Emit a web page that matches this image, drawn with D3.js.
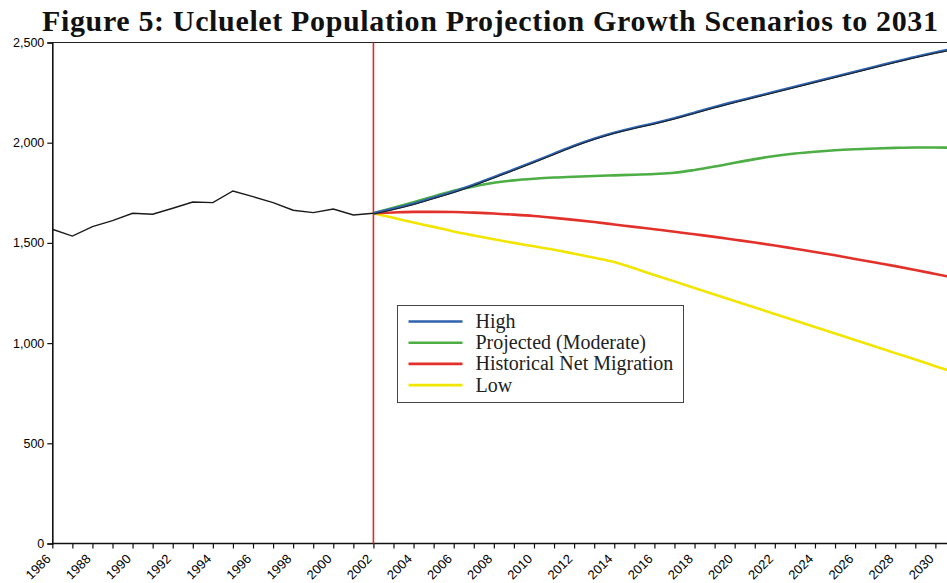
<!DOCTYPE html>
<html>
<head>
<meta charset="utf-8">
<script src="https://cdn.jsdelivr.net/npm/d3@7"></script>
<style>
  body { margin: 0; background: #fff; }
  svg { display: block; }
</style>
</head>
<body>
<div id="chart"></div>
<script>
// Ucluelet population, history + growth scenarios

const histYears = d3.range(1986, 2003);
const histPop = [1568, 1534, 1581, 1611, 1648, 1643, 1673, 1704, 1701, 1759, 1731, 1701, 1663, 1651, 1669, 1639, 1648];

const projYears = d3.range(2002, 2032);
const highPop = [1648, 1670, 1695, 1725, 1755, 1790, 1828, 1866, 1905, 1945, 1985, 2020, 2050, 2075, 2097, 2122, 2150, 2178, 2204, 2229, 2254, 2279, 2304, 2329, 2354, 2379, 2404, 2428, 2450, 2470];
const moderatePop = [1648, 1675, 1703, 1732, 1760, 1782, 1800, 1812, 1820, 1826, 1830, 1834, 1837, 1840, 1844, 1850, 1864, 1881, 1900, 1918, 1934, 1946, 1955, 1962, 1967, 1971, 1974, 1976, 1976, 1975];
const migrationPop = [1648, 1652, 1655, 1655, 1654, 1651, 1647, 1641, 1634, 1625, 1615, 1604, 1592, 1580, 1568, 1556, 1543, 1530, 1516, 1502, 1487, 1471, 1455, 1438, 1420, 1402, 1384, 1365, 1345, 1325];
const lowPop = [1648, 1625, 1602, 1580, 1557, 1537, 1518, 1500, 1483, 1466, 1446, 1426, 1405, 1373, 1340, 1308, 1275, 1243, 1210, 1178, 1145, 1113, 1080, 1048, 1015, 983, 950, 918, 885, 853];

const seriesNames = ["High", "Projected (Moderate)", "Historical Net Migration", "Low"];
const seriesColors = ["#2e62ad", "#4cae44", "#e2312a", "#f2e500"];
const seriesValues = [highPop, moderatePop, migrationPop, lowPop];

const yTicks = [0, 500, 1000, 1500, 2000, 2500];
const xLabelYears = d3.range(1986, 2031, 2);
const projStart = 2002;

const width = 947, height = 583;
const margin = { left: 52.3, top: 42.5, bottom: 39.5 };

const svg = d3.select("#chart").append("svg")
  .attr("width", width)
  .attr("height", height);

// x runs a bit past the right edge, the original is cut off there
const x = d3.scaleLinear()
  .domain([1986, 2031])
  .range([margin.left, margin.left + 45 * 20.07]);

const y = d3.scaleLinear()
  .domain([0, 2500])
  .range([height - margin.bottom, margin.top]);

// Title
svg.append("text")
  .attr("x", 490)
  .attr("y", 31)
  .attr("text-anchor", "middle")
  .attr("textLength", 896)
  .attr("lengthAdjust", "spacing")
  .style("font-family", "'Liberation Serif', 'Times New Roman', serif")
  .style("font-weight", "bold")
  .style("font-size", "30px")
  .attr("fill", "#111")
  .text("Figure 5: Ucluelet Population Projection Growth Scenarios to 2031");

// Top frame line
svg.append("line")
  .attr("x1", margin.left).attr("x2", width)
  .attr("y1", y(2500)).attr("y2", y(2500))
  .attr("stroke", "#222").attr("stroke-width", 1);

// Y axis
const yAxis = svg.append("g")
  .attr("transform", `translate(${margin.left},0)`)
  .call(d3.axisLeft(y).tickValues(yTicks).tickFormat(d3.format(",")).tickSize(5).tickPadding(3));

// X axis, tick every year, labels drawn separately (rotated)
const xAxis = svg.append("g")
  .attr("transform", `translate(0,${y(0)})`)
  .call(d3.axisBottom(x).tickValues(d3.range(1986, 2032)).tickSize(5).tickFormat(""));

[xAxis, yAxis].forEach(g => {
  g.select(".domain").attr("stroke", "#111").attr("stroke-width", 1.6);
  g.selectAll(".tick line").attr("stroke", "#111").attr("stroke-width", 1.2);
});

yAxis.selectAll("text")
  .style("font-family", "'Liberation Sans', Arial, sans-serif")
  .style("font-size", "12.5px")
  .attr("fill", "#000");

xAxis.select(".domain").attr("d", `M${margin.left},0H${width}`);

// one group per label: move to the tick, then turn the text
const xLabels = svg.append("g")
  .selectAll("g")
  .data(xLabelYears)
  .enter().append("g")
  .attr("transform", d => `translate(${x(d) - 4},${y(0) + 13})`);

xLabels.append("text")
  .attr("transform", "rotate(-45)")
  .attr("text-anchor", "end")
  .attr("dy", "0.35em")
  .style("font-family", "'Liberation Sans', Arial, sans-serif")
  .style("font-size", "13px")
  .attr("fill", "#000")
  .text(d => d);

// Red divider at the projection start
svg.append("line")
  .attr("x1", x(projStart)).attr("x2", x(projStart))
  .attr("y1", y(2500)).attr("y2", y(0))
  .attr("stroke", "#e02a24").attr("stroke-width", 1.6);

// Lines
const histLine = d3.line()
  .x((d, i) => x(histYears[i]))
  .y(d => y(d));

const projLine = d3.line()
  .x((d, i) => x(projYears[i]))
  .y(d => y(d))
  .curve(d3.curveMonotoneX);

// draw low first so high ends up on top
for (let k = seriesValues.length - 1; k >= 0; k--) {
  svg.append("path")
    .datum(seriesValues[k])
    .attr("d", projLine)
    .attr("fill", "none")
    .attr("stroke", seriesColors[k])
    .attr("stroke-width", 2.6);
}

// thin dark line riding on the high scenario
svg.append("path")
  .datum(highPop)
  .attr("d", projLine)
  .attr("transform", "translate(0,0.8)")
  .attr("fill", "none")
  .attr("stroke", "#1a1a1a")
  .attr("stroke-width", 1);

svg.append("path")
  .datum(histPop)
  .attr("d", histLine)
  .attr("fill", "none")
  .attr("stroke", "#1a1a1a")
  .attr("stroke-width", 1.4);

// Legend
const legend = svg.append("g").attr("transform", "translate(397.5,305.5)");

legend.append("rect")
  .attr("width", 286)
  .attr("height", 97)
  .attr("fill", "#fff")
  .attr("stroke", "#444")
  .attr("stroke-width", 1);

const rows = legend.selectAll(".row")
  .data(seriesNames)
  .enter().append("g")
  .attr("class", "row")
  .attr("transform", (d, i) => `translate(0,${16 + i * 21.2})`);

rows.append("line")
  .attr("x1", 11).attr("x2", 65)
  .attr("stroke", (d, i) => seriesColors[i])
  .attr("stroke-width", 2.6);

rows.append("text")
  .attr("x", 78)
  .attr("y", 6.5)
  .style("font-family", "'Liberation Serif', 'Times New Roman', serif")
  .style("font-size", "20px")
  .attr("fill", "#222")
  .text(d => d);
</script>
</body>
</html>
